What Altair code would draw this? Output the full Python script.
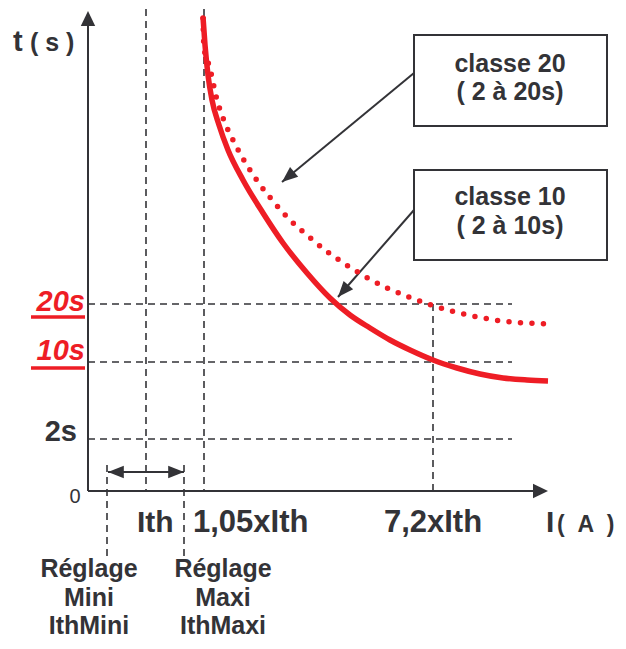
import altair as alt
import pandas as pd

RED = "#ee1d25"
INK = "#333337"
FONT = "Liberation Sans"
NB = "\u00a0"

# Diagram units: X = distance right of the t axis, Y = height above the I axis
# Class 10 trip curve (solid)
c10_x = [115, 117, 120, 124, 131, 140, 155, 175, 195, 219, 242, 262, 282, 302,
         322, 345, 369, 392, 415, 439, 460]
c10_y = [474, 446, 416, 391, 366, 341, 311, 278, 248, 218, 193, 176, 163, 151,
         141, 131, 123, 117, 113, 111, 110]
# Class 20 trip curve (dotted)
c20_x = [115, 116, 120, 123, 128, 135, 145, 157, 170, 185, 201, 219, 237, 257,
         278, 299, 321, 343, 367, 390, 414, 438, 461]
c20_y = [473, 443, 429, 418, 395, 373, 351, 329, 309, 290, 272, 256, 241, 227,
         214, 203, 194, 186, 179, 174, 170, 168, 167]

# time levels (20s, 10s, 2s) and current marks (Ith, 1,05xIth, 7,2xIth)
t_levels = [187, 129, 52]
t_labels = ["20s", "10s", "2s"]
i_marks = [58, 116, 345]
reg_x = [19, 96]          # Réglage Mini / Maxi

# dashed guide segments
guides = pd.DataFrame({
    "x":  [0, 0, 0] + i_marks + reg_x,
    "x2": [424, 424, 424] + i_marks + reg_x,
    "y":  t_levels + [482, 482, 187, 26, 26],
    "y2": [187, 129, 52, 0, 0, 0, -69, -69],
})

# solid segments: axes, setting arrow, callout leaders
solid = pd.DataFrame({
    "x":  [0, 0, 20, 326, 326],
    "x2": [0, 447, 96, 194, 250],
    "y":  [0, 0, 19, 418, 281],
    "y2": [466, 0, 19, 309, 194],
})

# arrow heads (tip position, direction in degrees)
heads = pd.DataFrame({
    "x": [20, 96, 194, 250],
    "y": [19, 19, 309, 194],
    "a": [270, 90, 230, 221],
})
axis_heads = pd.DataFrame({"x": [0, 460], "y": [480, 0], "a": [0, 90]})

# callout boxes
boxes = pd.DataFrame({"x": [326, 326], "x2": [519, 519],
                      "y": [456, 321], "y2": [365, 231]})

# red underlines under 20s / 10s
underl = pd.DataFrame({"x": [-57, -57], "x2": [-3, -3], "y": [174, 123], "y2": [174, 123]})

xs = alt.Scale(domain=[-80, 530], nice=False, zero=False)
ys = alt.Scale(domain=[-150, 483], nice=False, zero=False)


def X(f="x"):
    return alt.X(f"{f}:Q", scale=xs, axis=None)


def Y(f="y"):
    return alt.Y(f"{f}:Q", scale=ys, axis=None)


guide_layer = alt.Chart(guides).mark_rule(
    color=INK, strokeWidth=1.6, strokeDash=[7, 5]
).encode(x=X(), x2="x2", y=Y(), y2="y2")

solid_layer = alt.Chart(solid).mark_rule(color=INK, strokeWidth=2).encode(
    x=X(), x2="x2", y=Y(), y2="y2")

box_layer = alt.Chart(boxes).mark_rect(
    fill="white", stroke=INK, strokeWidth=2
).encode(x=X(), x2="x2", y=Y(), y2="y2")

c10 = pd.DataFrame({"x": c10_x, "y": c10_y, "i": range(len(c10_x))})
c20 = pd.DataFrame({"x": c20_x, "y": c20_y, "i": range(len(c20_x))})

c10_layer = alt.Chart(c10).mark_line(
    color=RED, strokeWidth=5.5, interpolate="monotone"
).encode(x=X(), y=Y(), order="i:Q")

c20_layer = alt.Chart(c20).mark_line(
    color=RED, strokeWidth=5.5, strokeCap="round", strokeDash=[0, 11.5],
    interpolate="monotone"
).encode(x=X(), y=Y(), order="i:Q")

ul_layer = alt.Chart(underl).mark_rule(color=RED, strokeWidth=3.5).encode(
    x=X(), x2="x2", y=Y(), y2="y2")

head_layer = alt.Chart(heads).mark_point(
    shape="M0,0 L0.4,1 L-0.4,1 Z", filled=True, opacity=1, color=INK, size=1000
).encode(x=X(), y=Y(), angle=alt.Angle("a:Q", scale=None))

axis_head_layer = alt.Chart(axis_heads).mark_point(
    shape="M0,0 L0.48,1 L-0.48,1 Z", filled=True, opacity=1, color=INK, size=900
).encode(x=X(), y=Y(), angle=alt.Angle("a:Q", scale=None))

# texts
left_txt = pd.DataFrame({
    "x": [-75, -58, 49, 105, 458, 469],
    "y": [440, 440, -41, -41, -41, -41],
    "t": ["t", "( s )", "Ith", "1,05xIth", "I", f"({NB}{NB}A{NB}{NB})"],
    "s": [29, 25, 30, 31, 30, 23],
})
center_txt = pd.DataFrame({
    "x": [345, 1, 1, 1, 135, 135, 135, 422, 422, 422, 422],
    "y": [-41, -86, -115, -143, -86, -115, -143, 419, 391, 286, 257],
    "t": ["7,2xIth", "Réglage", "Mini", "IthMini", "Réglage", "Maxi", "IthMaxi",
          "classe 20", "( 2 à 20s)", "classe 10", "( 2 à 10s)"],
    "s": [31, 25, 25, 25, 25, 25, 25, 25, 25, 25, 25],
})
red_txt = pd.DataFrame({"x": [-3, -3], "y": [180, 131], "t": t_labels[:2]})
right_txt = pd.DataFrame({"x": [-11], "y": [50], "t": t_labels[2:]})
zero_txt = pd.DataFrame({"x": [-13], "y": [-12], "t": ["0"]})

left_layer = alt.Chart(left_txt).mark_text(
    align="left", baseline="alphabetic", font=FONT, fontWeight="bold", color=INK
).encode(x=X(), y=Y(), text="t:N", size=alt.Size("s:Q", scale=None))

center_layer = alt.Chart(center_txt).mark_text(
    align="center", baseline="alphabetic", font=FONT, fontWeight="bold", color=INK
).encode(x=X(), y=Y(), text="t:N", size=alt.Size("s:Q", scale=None))

red_layer = alt.Chart(red_txt).mark_text(
    align="right", baseline="alphabetic", font=FONT, fontWeight="bold",
    fontStyle="italic", fontSize=29, color=RED
).encode(x=X(), y=Y(), text="t:N")

right_layer = alt.Chart(right_txt).mark_text(
    align="right", baseline="alphabetic", font=FONT, fontWeight="bold",
    fontSize=29, color=INK
).encode(x=X(), y=Y(), text="t:N")

zero_layer = alt.Chart(zero_txt).mark_text(
    align="center", baseline="alphabetic", font=FONT, fontSize=20, color=INK
).encode(x=X(), y=Y(), text="t:N")

chart = alt.layer(
    guide_layer, solid_layer, box_layer, c20_layer, c10_layer, ul_layer,
    head_layer, axis_head_layer, left_layer, center_layer, red_layer,
    right_layer, zero_layer
).properties(
    width=610, height=633, padding=0, autosize=alt.AutoSizeParams(type="none")
).configure_view(stroke=None)

chart.save("out.html", embed_options={"renderer": "svg", "actions": False})
